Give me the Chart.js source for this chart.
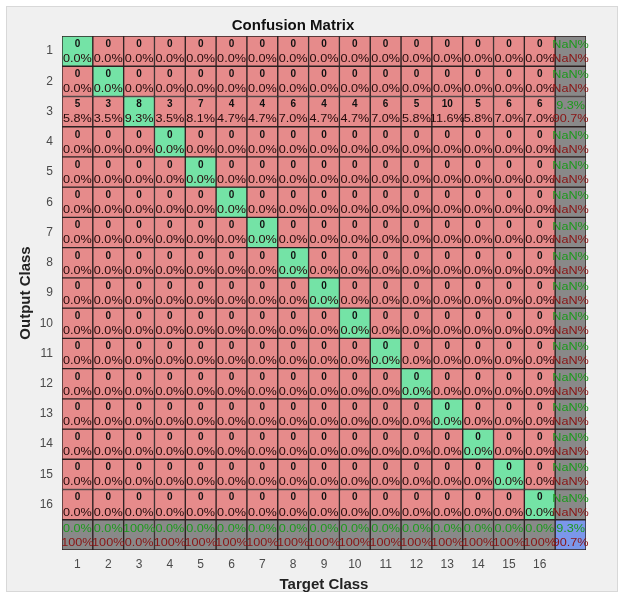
<!DOCTYPE html>
<html>
<head>
<meta charset="utf-8">
<title>Confusion Matrix</title>
<script src="https://cdn.jsdelivr.net/npm/chart.js@4/dist/chart.umd.min.js"></script>
<style>
  html, body { margin: 0; padding: 0; background: #fff; }
  #wrap { position: relative; width: 625px; height: 597px; }
</style>
</head>
<body>
<div id="wrap"><canvas id="cm" width="625" height="597"></canvas></div>
<script>
// class names on both axes
const classLabels = ['1', '2', '3', '4', '5', '6', '7', '8', '9', '10', '11', '12', '13', '14', '15', '16'];

// rows = output class, columns = target class
const row1 = [0, 0, 0, 0, 0, 0, 0, 0, 0, 0, 0, 0, 0, 0, 0, 0];
const row2 = [0, 0, 0, 0, 0, 0, 0, 0, 0, 0, 0, 0, 0, 0, 0, 0];
const row3 = [5, 3, 8, 3, 7, 4, 4, 6, 4, 4, 6, 5, 10, 5, 6, 6];
const row4 = [0, 0, 0, 0, 0, 0, 0, 0, 0, 0, 0, 0, 0, 0, 0, 0];
const row5 = [0, 0, 0, 0, 0, 0, 0, 0, 0, 0, 0, 0, 0, 0, 0, 0];
const row6 = [0, 0, 0, 0, 0, 0, 0, 0, 0, 0, 0, 0, 0, 0, 0, 0];
const row7 = [0, 0, 0, 0, 0, 0, 0, 0, 0, 0, 0, 0, 0, 0, 0, 0];
const row8 = [0, 0, 0, 0, 0, 0, 0, 0, 0, 0, 0, 0, 0, 0, 0, 0];
const row9 = [0, 0, 0, 0, 0, 0, 0, 0, 0, 0, 0, 0, 0, 0, 0, 0];
const row10 = [0, 0, 0, 0, 0, 0, 0, 0, 0, 0, 0, 0, 0, 0, 0, 0];
const row11 = [0, 0, 0, 0, 0, 0, 0, 0, 0, 0, 0, 0, 0, 0, 0, 0];
const row12 = [0, 0, 0, 0, 0, 0, 0, 0, 0, 0, 0, 0, 0, 0, 0, 0];
const row13 = [0, 0, 0, 0, 0, 0, 0, 0, 0, 0, 0, 0, 0, 0, 0, 0];
const row14 = [0, 0, 0, 0, 0, 0, 0, 0, 0, 0, 0, 0, 0, 0, 0, 0];
const row15 = [0, 0, 0, 0, 0, 0, 0, 0, 0, 0, 0, 0, 0, 0, 0, 0];
const row16 = [0, 0, 0, 0, 0, 0, 0, 0, 0, 0, 0, 0, 0, 0, 0, 0];
const counts = [row1, row2, row3, row4, row5, row6, row7, row8,
                row9, row10, row11, row12, row13, row14, row15, row16];

const n = classLabels.length;
const total = counts.flat().reduce((a, b) => a + b, 0);

const FONT = 'Arial, "Liberation Sans", sans-serif';
const GREEN = '#74e3a6';
const RED = '#e68b8b';
const GRAY = '#898989';
const BLUE = '#7b97ea';
const TXT_GREEN = '#1c9a1c';
const TXT_RED = '#8a1414';

function pct(v) {
    if (isNaN(v)) return 'NaN%';
    if (Math.abs(v - 100) < 1e-9) return '100%';
    return v.toFixed(1) + '%';
}

// which fill each cell gets
function cellColor(r, c) {
    if (r === n && c === n) return BLUE;
    if (r === n || c === n) return GRAY;
    return r === c ? GREEN : RED;
}

// text shown in each cell: [top, bottom, topColor, bottomColor, topBold]
function cellText(r, c) {
    if (r < n && c < n) {
        return [String(counts[r][c]), pct(100 * counts[r][c] / total), '#111', '#250a0a', true];
    }
    if (r < n && c === n) {
        const rowSum = counts[r].reduce((a, b) => a + b, 0);
        const ok = 100 * counts[r][r] / rowSum;
        return [pct(ok), pct(100 - ok), TXT_GREEN, TXT_RED, false];
    }
    if (r === n && c < n) {
        const colSum = counts.reduce((s, row) => s + row[c], 0);
        const ok = 100 * counts[c][c] / colSum;
        return [pct(ok), pct(100 - ok), TXT_GREEN, TXT_RED, false];
    }
    let diag = 0;
    for (let i = 0; i < n; i++) diag += counts[i][i];
    const ok = 100 * diag / total;
    return [pct(ok), pct(100 - ok), TXT_GREEN, TXT_RED, false];
}

// one floating-bar dataset per matrix row (16 classes + summary row)
const columnLabels = classLabels.concat(['']);
const datasets = [];
for (let r = 0; r <= n; r++) {
    datasets.push({
        data: columnLabels.map(() => [r, r + 1]),
        backgroundColor: columnLabels.map((_, c) => cellColor(r, c)),
        borderColor: '#2b2020',
        borderWidth: 1,
        borderSkipped: false,
        barPercentage: 1,
        categoryPercentage: 1
    });
}

const backdrop = {
    id: 'backdrop',
    beforeDraw(chart) {
        const ctx = chart.ctx;
        ctx.save();
        ctx.fillStyle = '#ffffff';
        ctx.fillRect(0, 0, chart.width, chart.height);
        ctx.fillStyle = '#f0f0f0';
        ctx.fillRect(6, 6, 612, 586);
        ctx.strokeStyle = '#d8d8d8';
        ctx.lineWidth = 1;
        ctx.strokeRect(6.5, 6.5, 611, 585);
        ctx.restore();
    }
};

const cellLabels = {
    id: 'cellLabels',
    afterDatasetsDraw(chart) {
        const ctx = chart.ctx;
        const xs = chart.scales.x;
        const ys = chart.scales.y;
        ctx.save();
        ctx.textAlign = 'center';
        ctx.textBaseline = 'middle';
        for (let r = 0; r <= n; r++) {
            const top = ys.getPixelForValue(r);
            const h = ys.getPixelForValue(r + 1) - top;
            for (let c = 0; c <= n; c++) {
                const cx = xs.getPixelForValue(c);
                const t = cellText(r, c);
                ctx.fillStyle = t[2];
                ctx.font = (t[4] ? 'bold 10px ' : '11px ') + FONT;
                ctx.save();
                ctx.translate(cx, top + h * (t[4] ? 0.27 : 0.3));
                if (!t[4]) ctx.scale(1.15, 1);
                ctx.fillText(t[0], 0, 0);
                ctx.restore();
                ctx.fillStyle = t[3];
                ctx.font = '11px ' + FONT;
                ctx.save();
                ctx.translate(cx, top + h * 0.76);
                ctx.scale(1.15, 1);
                ctx.fillText(t[1], 0, 0);
                ctx.restore();
            }
        }
        ctx.restore();
    }
};

new Chart(document.getElementById('cm'), {
    type: 'bar',
    data: { labels: columnLabels, datasets: datasets },
    options: {
        responsive: false,
        animation: false,
        events: [],
        layout: { padding: { left: 0, right: 39, top: 0, bottom: 0 } },
        plugins: {
            legend: { display: false },
            tooltip: { enabled: false },
            title: {
                display: true,
                text: 'Confusion Matrix',
                color: '#111',
                font: { family: FONT, size: 15, weight: 'bold', lineHeight: 1.2 },
                padding: { top: 17, bottom: 1 }
            }
        },
        scales: {
            x: {
                stacked: true,
                grid: { display: false, drawTicks: false },
                border: { display: false },
                ticks: {
                    autoSkip: false,
                    maxRotation: 0,
                    padding: 7,
                    color: '#4a4a4a',
                    font: { family: FONT, size: 12 }
                },
                title: {
                    display: true,
                    text: 'Target Class',
                    color: '#222',
                    font: { family: FONT, size: 15, weight: 'bold', lineHeight: 1.2 },
                    padding: { top: 0, bottom: 3 }
                },
                afterFit(scale) { scale.height = 47; }
            },
            y: {
                type: 'linear',
                stacked: false,
                reverse: true,
                min: 0,
                max: n + 1,
                grid: { display: false, drawTicks: false },
                border: { display: false },
                afterBuildTicks(scale) {
                    scale.ticks = classLabels.map((_, i) => ({ value: i + 0.5 }));
                },
                ticks: {
                    padding: 9,
                    color: '#4a4a4a',
                    font: { family: FONT, size: 12 },
                    callback: (value) => classLabels[Math.floor(value)]
                },
                title: {
                    display: true,
                    text: 'Output Class',
                    color: '#222',
                    font: { family: FONT, size: 15, weight: 'bold', lineHeight: 1.2 },
                    padding: { top: 17, bottom: 0 }
                },
                afterFit(scale) { scale.width = 62; }
            }
        }
    },
    plugins: [backdrop, cellLabels]
});
</script>
</body>
</html>
